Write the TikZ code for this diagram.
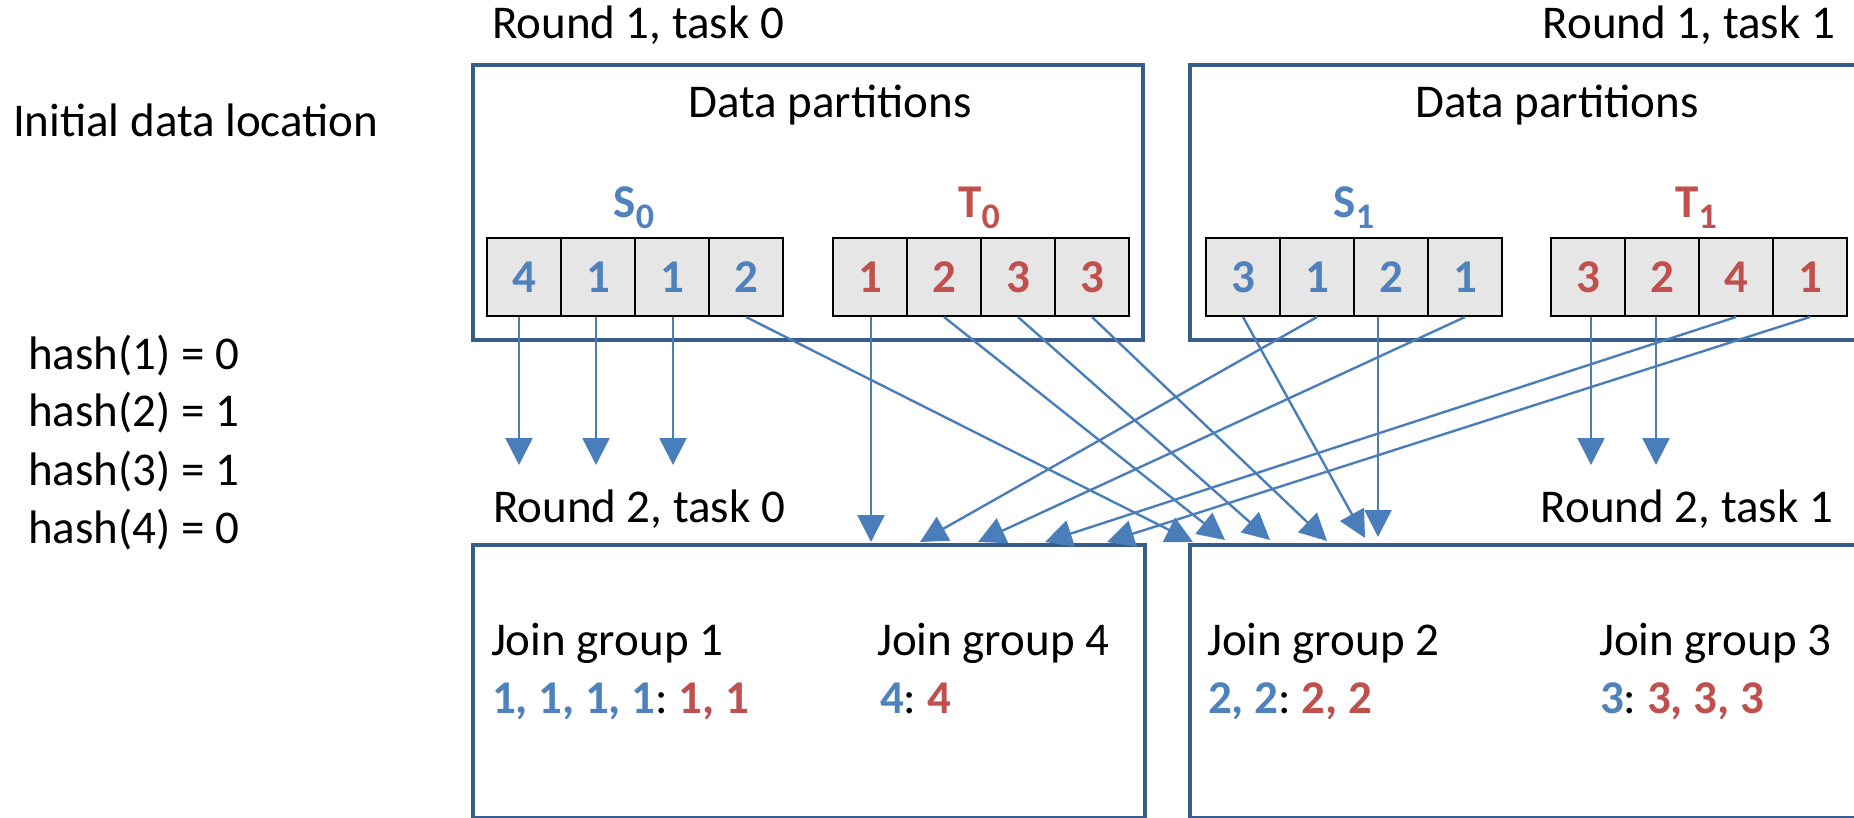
\documentclass[tikz,border=0pt]{standalone}
\usepackage{fontspec}
\setmainfont{Carlito}
\usetikzlibrary{arrows.meta}
\definecolor{boxblue}{HTML}{385D8A}
\definecolor{arrblue}{HTML}{4A7EBB}
\definecolor{tblue}{HTML}{4F81BD}
\definecolor{tred}{HTML}{C0504D}
\definecolor{cellgray}{HTML}{E6E6E6}
\newcommand{\bigf}{\fontsize{23.5}{28}\selectfont}
\newcommand{\subf}{\fontsize{18}{21}\selectfont}
\begin{document}
\begin{tikzpicture}[x=0.5pt,y=-0.5pt,
  txt/.style={font=\bigf, inner sep=0pt, outer sep=0pt},
  lab/.style={font=\bigf\bfseries, inner sep=0pt, outer sep=0pt, anchor=base},
  cell/.style={draw=black, line width=1pt, fill=cellgray, minimum width=37pt, minimum height=39pt, inner sep=0pt, font=\bigf\bfseries},
  bcell/.style={cell, text=tblue},
  rcell/.style={cell, text=tred},
  task/.style={draw=boxblue, line width=2.2pt, inner sep=0pt, anchor=north west},
  arr/.style={draw=arrblue, line width=1.2pt, -{Triangle[length=13.5pt,width=13.5pt]}},
]
\fill[white] (0,0) rectangle (1854,818);
\clip (0,0) rectangle (1854,818);

% task boxes
\node[task, minimum width=335pt, minimum height=137.5pt] (box10) at (471,63) {};
\node[task, minimum width=360pt, minimum height=137.5pt] (box11) at (1188,63) {};
\node[task, minimum width=336pt, minimum height=136.5pt] (box20) at (471,543) {};
\node[task, minimum width=360pt, minimum height=136.5pt] (box21) at (1188,543) {};

% texts
\node[txt, anchor=base west] (lab10) at (492,39) {Round 1, task 0};
\node[txt, anchor=base east] (lab11) at (1835,39) {Round 1, task 1};
\node[txt, anchor=base] (dp0) at (830,118) {Data partitions};
\node[txt, anchor=base] (dp1) at (1557,118) {Data partitions};
\node[txt, anchor=base west] (init) at (13,137) {Initial data location};
\node[txt, anchor=base west] (h1) at (28,370) {hash(1) = 0};
\node[txt, anchor=base west] (h2) at (28,427) {hash(2) = 1};
\node[txt, anchor=base west] (h3) at (28,485) {hash(3) = 1};
\node[txt, anchor=base west] (h4) at (28,543) {hash(4) = 0};
\node[txt, anchor=base west] (lab20) at (493,522) {Round 2, task 0};
\node[txt, anchor=base east] (lab21) at (1833,522) {Round 2, task 1};
\node[txt, anchor=base west] (jg1) at (491,655) {Join group 1};
\node[txt, anchor=base west] (jg4) at (877,655) {Join group 4};
\node[txt, anchor=base west] (jg2) at (1207,655) {Join group 2};
\node[txt, anchor=base west] (jg3) at (1599,655) {Join group 3};
\node[txt, anchor=base west] (v1v) at (492,713) {\textcolor{tblue}{\bfseries 1, 1, 1, 1}:~\textcolor{tred}{\bfseries 1, 1}};
\node[txt, anchor=base west] (v4v) at (880,713) {\textcolor{tblue}{\bfseries 4}:~\textcolor{tred}{\bfseries 4}};
\node[txt, anchor=base west] (v2v) at (1208,713) {\textcolor{tblue}{\bfseries 2, 2}:~\textcolor{tred}{\bfseries 2, 2}};
\node[txt, anchor=base west] (v3v) at (1600,713) {\textcolor{tblue}{\bfseries 3}:~\textcolor{tred}{\bfseries 3, 3, 3}};

% partition labels
\node[lab, text=tblue] (ls0) at (634,218) {S\raisebox{-5.5pt}{\subf 0}};
\node[lab, text=tred] (lt0) at (979,218) {T\raisebox{-5.5pt}{\subf 0}};
\node[lab, text=tblue] (ls1) at (1354,218) {S\raisebox{-5.5pt}{\subf 1}};
\node[lab, text=tred] (lt1) at (1696,218) {T\raisebox{-5.5pt}{\subf 1}};

% cells
\node[bcell] (s0a) at (524,277) {4};
\node[bcell] (s0b) at (598,277) {1};
\node[bcell] (s0c) at (672,277) {1};
\node[bcell] (s0d) at (746,277) {2};
\node[rcell] (t0a) at (870,277) {1};
\node[rcell] (t0b) at (944,277) {2};
\node[rcell] (t0c) at (1018,277) {3};
\node[rcell] (t0d) at (1092,277) {3};
\node[bcell] (s1a) at (1243,277) {3};
\node[bcell] (s1b) at (1317,277) {1};
\node[bcell] (s1c) at (1391,277) {2};
\node[bcell] (s1d) at (1465,277) {1};
\node[rcell] (t1a) at (1588,277) {3};
\node[rcell] (t1b) at (1662,277) {2};
\node[rcell] (t1c) at (1736,277) {4};
\node[rcell] (t1d) at (1810,277) {1};

% arrow end points
\coordinate (v1) at (519,465);
\coordinate (v2) at (596,465);
\coordinate (v3) at (673,465);
\coordinate (v4) at (1591,465);
\coordinate (v5) at (1656,465);
\coordinate (pV) at (871,542);
\coordinate (pA) at (920,542);
\coordinate (pB) at (978,542);
\coordinate (pC) at (1045,542);
\coordinate (pD) at (1107,542);
\coordinate (pE) at (1193,542);
\coordinate (pF) at (1225,540);
\coordinate (pG) at (1270,540);
\coordinate (pH) at (1327,541);
\coordinate (pI) at (1365,538);
\coordinate (pJ) at (1378,537);

% arrows
\draw[arr] (v1 |- s0a.south) -- (v1);
\draw[arr] (v2 |- s0b.south) -- (v2);
\draw[arr] (v3 |- s0c.south) -- (v3);
\draw[arr] (s0d.south) -- (pE);
\draw[arr] (pV |- t0a.south) -- (pV);
\draw[arr] (t0b.south) -- (pF);
\draw[arr] (t0c.south) -- (pG);
\draw[arr] (t0d.south) -- (pH);
\draw[arr] (s1a.south) -- (pI);
\draw[arr] (s1b.south) -- (pA);
\draw[arr] (pJ |- s1c.south) -- (pJ);
\draw[arr] (s1d.south) -- (pB);
\draw[arr] (v4 |- t1a.south) -- (v4);
\draw[arr] (v5 |- t1b.south) -- (v5);
\draw[arr] (t1c.south) -- (pC);
\draw[arr] (t1d.south) -- (pD);
\end{tikzpicture}
\end{document}
